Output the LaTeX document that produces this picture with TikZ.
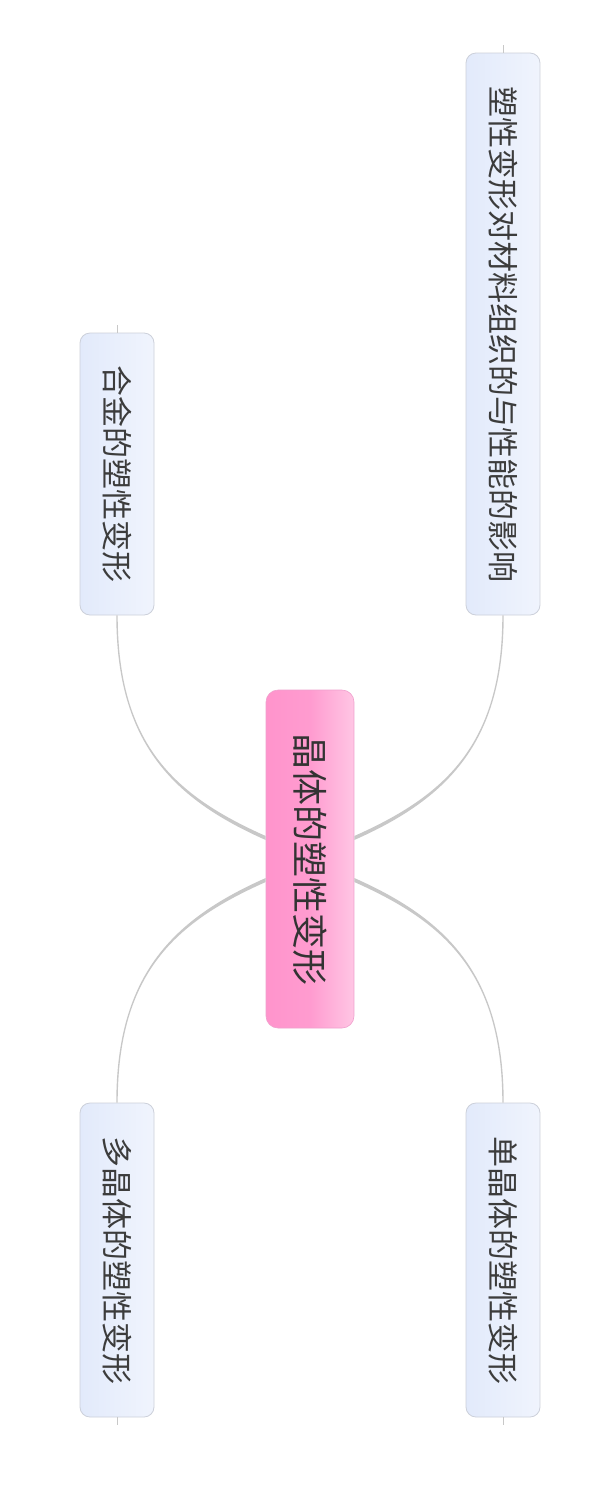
\documentclass[tikz,border=0pt]{standalone}
\usepackage{fontspec}
\newfontfamily\cjk{Noto Sans CJK SC}
\usetikzlibrary{calc}
\definecolor{childL}{RGB}{226,234,251}
\definecolor{childR}{RGB}{240,244,253}
\definecolor{childB}{RGB}{204,208,218}
\definecolor{pinkL}{RGB}{255,148,204}
\definecolor{pinkR}{RGB}{255,198,228}
\definecolor{pinkB}{RGB}{240,160,205}
\definecolor{connC}{RGB}{200,200,200}
\definecolor{txtC}{RGB}{60,60,60}
\newcommand\mmconn[4]{%
\fill[connC]
 ($(#1)+(0,{-(#4)*2})$) .. controls ($(#1)+({(#3)*90},{-(#4)*40-(#4)*2})$) and ($(#2)+({-(#3)*0.7},{(#4)*130})$) .. ($(#2)+({-(#3)*0.7},0)$)
 -- ($(#2)+({(#3)*0.7},0)$) .. controls ($(#2)+({(#3)*0.7},{(#4)*130})$) and ($(#1)+({(#3)*90},{-(#4)*40+(#4)*2})$) .. ($(#1)+(0,{(#4)*2})$) -- cycle;}
\begin{document}
\begin{tikzpicture}[x=1pt,y=-1pt,
  childbox/.style={draw=childB, line width=0.8pt, left color=childL, right color=childR, rounded corners=10pt, minimum width=74pt, inner sep=0pt, text=txtC, font=\cjk\fontsize{31}{31}\selectfont},
  centerbox/.style={draw=pinkB, line width=0.6pt, left color=pinkL, right color=pinkR, middle color=pinkL!85!pinkR, rounded corners=12pt, minimum width=88pt, minimum height=338pt, inner sep=0pt, text=black!80, font=\cjk\fontsize{36}{36}\selectfont},
  stub/.style={draw=connC, line width=0.8pt}]
\useasboundingbox (0,0) rectangle (598,1489);
\fill[white] (0,0) rectangle (598,1489);
\node[centerbox] (c) at (310,859) {\rotatebox{-90}{晶体的塑性变形}};
\node[childbox, minimum height=562pt] (rt) at (503,334) {\rotatebox{-90}{塑性变形对材料组织的与性能的影响}};
\node[childbox, minimum height=282pt] (lt) at (117,474) {\rotatebox{-90}{合金的塑性变形}};
\node[childbox, minimum height=314pt] (lb) at (117,1260) {\rotatebox{-90}{多晶体的塑性变形}};
\node[childbox, minimum height=314pt] (rb) at (503,1260) {\rotatebox{-90}{单晶体的塑性变形}};
\coordinate (s1) at ($(c.west)+(0,-21)$);
\coordinate (s2) at ($(c.east)+(0,-21)$);
\coordinate (s3) at ($(c.west)+(0,21)$);
\coordinate (s4) at ($(c.east)+(0,21)$);
\mmconn{s1}{lt.south}{-1}{1}
\mmconn{s2}{rt.south}{1}{1}
\mmconn{s3}{lb.north}{-1}{-1}
\mmconn{s4}{rb.north}{1}{-1}
\coordinate (t1) at ($(rt.north)+(0,-8)$);
\coordinate (t2) at ($(lt.north)+(0,-8)$);
\coordinate (t3) at ($(lb.south)+(0,8)$);
\coordinate (t4) at ($(rb.south)+(0,8)$);
\draw[stub] (rt.north) -- (t1);
\draw[stub] (lt.north) -- (t2);
\draw[stub] (lb.south) -- (t3);
\draw[stub] (rb.south) -- (t4);
\end{tikzpicture}
\end{document}
